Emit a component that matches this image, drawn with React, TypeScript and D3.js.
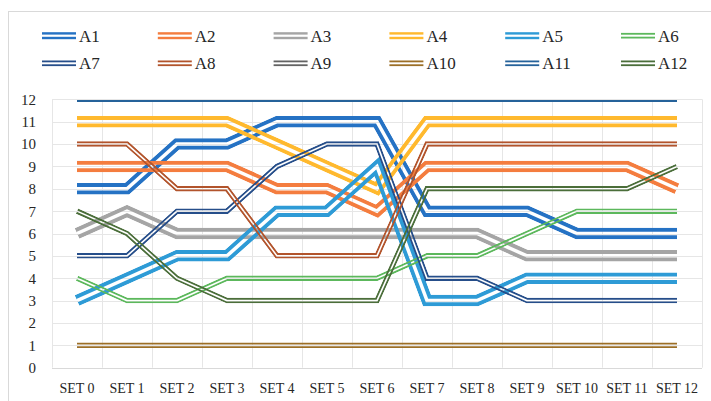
import React from "react";
import * as d3 from "d3";

const categories = ["SET 0","SET 1","SET 2","SET 3","SET 4","SET 5","SET 6","SET 7","SET 8","SET 9","SET 10","SET 11","SET 12"];
const seriesNames = ["A1","A2","A3","A4","A5","A6","A7","A8","A9","A10","A11","A12"];
const A1 = [8,8,10,10,11,11,11,7,7,7,6,6,6];
const A2 = [9,9,9,9,8,8,7,9,9,9,9,9,8];
const A3 = [6,7,6,6,6,6,6,6,6,5,5,5,5];
const A4 = [11,11,11,11,10,9,8,11,11,11,11,11,11];
const A5 = [3,4,5,5,7,7,9,3,3,4,4,4,4];
const A6 = [4,3,3,4,4,4,4,5,5,6,7,7,7];
const A7 = [5,5,7,7,9,10,10,4,4,3,3,3,3];
const A8 = [10,10,8,8,5,5,5,10,10,10,10,10,10];
const A9 = [12,12,12,12,12,12,12,12,12,12,12,12,12];
const A10 = [1,1,1,1,1,1,1,1,1,1,1,1,1];
const A11 = [12,12,12,12,12,12,12,12,12,12,12,12,12];
const A12 = [7,6,4,3,3,3,3,8,8,8,8,8,9];
const seriesValues = [A1,A2,A3,A4,A5,A6,A7,A8,A9,A10,A11,A12];
const yTicks = [0,1,2,3,4,5,6,7,8,9,10,11,12];

const colors = ["#2572C4","#F47D3F","#A5A5A5","#FFB92E","#2E9BD6","#5CB85C","#264E8A","#B2542C","#636363","#9C6F27","#25629A","#4B6E3A"];
const thick = [true,true,true,true,true,false,false,false,false,false,false,false];

const W = 711, H = 401;
const plotL = 52, plotR = 702, plotT = 99.3, plotB = 367.7;
const textStyle: React.CSSProperties = { fontFamily: "'Times New Roman', Times, 'Liberation Serif', 'Noto Serif', 'DejaVu Serif', serif" };

export default function App() {
  const x = d3.scaleBand<string>().domain(categories).range([plotL, plotR]).padding(0);
  const y = d3.scaleLinear().domain([0, 12]).range([plotB, plotT]);
  const cx = (c: string) => (x(c) as number) + x.bandwidth() / 2;
  const line = d3.line<number>().x((_, i) => cx(categories[i])).y((v) => y(v));

  const legendX0 = 42, legendDX = 115.8;
  const legendRows = [35.7, 63.3];

  return (
    <svg width={W} height={H} style={{ position: "absolute", left: 0, top: 0, background: "#fff" }}>
      <defs>
        <clipPath id="plotclip">
          <rect x={0} y={plotT} width={W} height={H - plotT} />
        </clipPath>
        {seriesValues.map((vals, i) => {
          const d = line(vals) || "";
          const tw = thick[i] ? 11.5 : 5.5;
          const gw = thick[i] ? 3.5 : 1.6;
          return (
            <mask key={i} id={`m${i}`} maskUnits="userSpaceOnUse" x={0} y={0} width={W} height={H}>
              <path d={d} fill="none" stroke="#fff" strokeWidth={tw} strokeLinejoin="miter" />
              <path d={d} fill="none" stroke="#000" strokeWidth={gw} strokeLinejoin="miter" />
            </mask>
          );
        })}
      </defs>
      <rect x={0} y={0} width={W} height={H} fill="#fff" />
      <rect x={8.5} y={11.5} width={W + 20} height={H + 20} fill="none" stroke="#D9D9D9" strokeWidth={1} />

      {yTicks.map((t) => (
        <line key={"h" + t} x1={plotL} x2={plotR} y1={Math.round(y(t)) + 0.5} y2={Math.round(y(t)) + 0.5}
          stroke={t === 0 ? "#D9D9D9" : "#E6E6E6"} strokeWidth={1} />
      ))}
      {categories.concat(["__end"]).map((c, i) => {
        const xv = plotL + i * x.bandwidth();
        return <line key={"v" + i} x1={Math.round(xv) + 0.5} x2={Math.round(xv) + 0.5} y1={plotT} y2={plotB} stroke="#E6E6E6" strokeWidth={1} />;
      })}

      {yTicks.map((t) => (
        <text key={"yl" + t} x={36} y={y(t)} dy="0.36em" textAnchor="end" style={textStyle} fontSize={15} fill="#262626">{t}</text>
      ))}
      {categories.map((c) => (
        <text key={"xl" + c} x={cx(c)} y={393} textAnchor="middle" style={textStyle} fontSize={14} fill="#262626">{c}</text>
      ))}

      <g clipPath="url(#plotclip)">
        {seriesValues.map((vals, i) => (
          <path key={"s" + i} d={line(vals) || ""} fill="none" stroke={colors[i]}
            strokeWidth={thick[i] ? 11.5 : 5.5} strokeLinejoin="miter" mask={`url(#m${i})`} />
        ))}
      </g>

      {seriesNames.map((name, i) => {
        const row = Math.floor(i / 6), col = i % 6;
        const lx = legendX0 + col * legendDX;
        const ly = legendRows[row];
        const sw = thick[i] ? 2.4 : 1.8;
        const gap = thick[i] ? 2.2 : 2.0;
        return (
          <g key={"lg" + i}>
            <rect x={lx} y={ly - gap / 2 - sw} width={34} height={sw} fill={colors[i]} />
            <rect x={lx} y={ly + gap / 2} width={34} height={sw} fill={colors[i]} />
            <text x={lx + 37} y={ly} dy="0.36em" style={textStyle} fontSize={17} fill="#262626">{name}</text>
          </g>
        );
      })}
    </svg>
  );
}
